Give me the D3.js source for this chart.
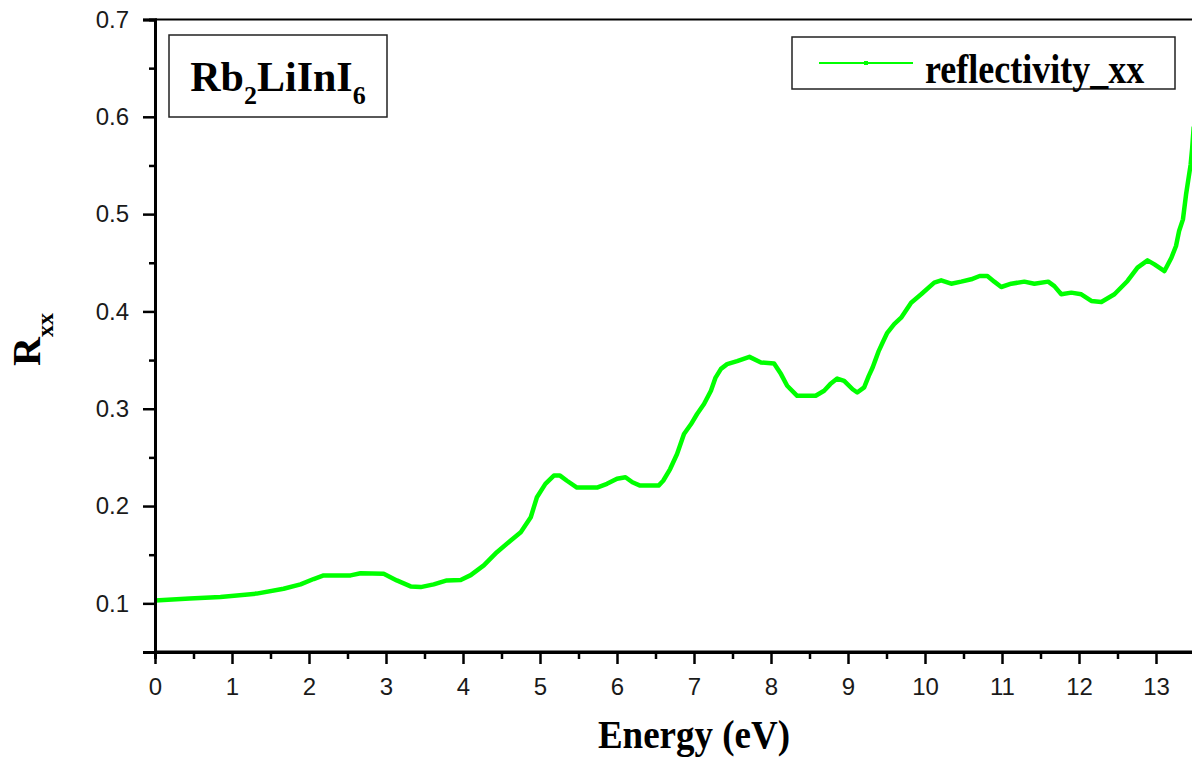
<!DOCTYPE html>
<html>
<head>
<meta charset="utf-8">
<script src="https://cdn.jsdelivr.net/npm/d3@7"></script>
<style>
  body { margin: 0; background: #fff; }
  svg { display: block; }
  .tick text { font-family: "Liberation Sans", Arial, sans-serif; font-size: 24px; fill: #1a1a1a; }
  .serif { font-family: "Liberation Serif", "Times New Roman", serif; font-weight: bold; fill: #000; }
</style>
</head>
<body>
<div id="chart"></div>
<script>
(function() {
    var width = 1192,
        height = 760;

    // energy (eV) and reflectivity
    var energy = [0.00, 0.45, 0.85, 1.32, 1.67, 1.89, 2.06, 2.19, 2.54, 2.67, 2.97, 3.14, 3.32, 3.45, 3.62, 3.79, 3.97, 4.10, 4.27, 4.44,
        4.62, 4.75, 4.88, 4.96, 5.07, 5.18, 5.26, 5.35, 5.48, 5.74, 5.87, 6.00, 6.11, 6.20, 6.30, 6.54, 6.60, 6.69, 6.78, 6.87,
        6.96, 7.04, 7.13, 7.22, 7.28, 7.35, 7.43, 7.56, 7.72, 7.87, 8.04, 8.13, 8.21, 8.34, 8.58, 8.69, 8.77, 8.86, 8.95, 9.06,
        9.12, 9.21, 9.27, 9.32, 9.36, 9.40, 9.45, 9.51, 9.60, 9.69, 9.82, 9.95, 10.12, 10.21, 10.34, 10.47, 10.60, 10.71, 10.81, 10.90,
        10.99, 11.12, 11.29, 11.42, 11.60, 11.68, 11.77, 11.90, 12.03, 12.16, 12.29, 12.46, 12.63, 12.76, 12.89, 12.98, 13.11, 13.20,
        13.26, 13.30, 13.35, 13.39, 13.42, 13.45, 13.47, 13.49];
    var reflectivity = [0.103, 0.105, 0.1065, 0.110, 0.115, 0.1195, 0.125, 0.1287, 0.1287, 0.131, 0.1305, 0.1236, 0.1174, 0.1167, 0.1195, 0.1236, 0.124, 0.129, 0.139, 0.1526,
        0.1646, 0.173, 0.1885, 0.209, 0.2228, 0.2313, 0.2313, 0.226, 0.219, 0.219, 0.2228, 0.228, 0.2296, 0.2244, 0.221, 0.221, 0.226, 0.238, 0.2535, 0.274,
        0.284, 0.2946, 0.3048, 0.3185, 0.332, 0.341, 0.3458, 0.349, 0.3533, 0.3475, 0.3465, 0.3356, 0.3236, 0.3133, 0.3133, 0.3185, 0.3253, 0.331, 0.3287, 0.320,
        0.3167, 0.322, 0.3338, 0.3424, 0.351, 0.3595, 0.368, 0.378, 0.387, 0.3936, 0.409, 0.4176, 0.4296, 0.432, 0.4285, 0.4306, 0.433, 0.4364, 0.4364, 0.4306,
        0.4251, 0.4285, 0.4306, 0.4285, 0.4306, 0.426, 0.4176, 0.4193, 0.4176, 0.4108, 0.4097, 0.4176, 0.4313, 0.445, 0.4525, 0.4484, 0.4415, 0.4552,
        0.4672, 0.4826, 0.4946, 0.520, 0.5356, 0.551, 0.568, 0.59];

    var xTicks = [0, 1, 2, 3, 4, 5, 6, 7, 8, 9, 10, 11, 12, 13];
    var xMinorTicks = [0.5, 1.5, 2.5, 3.5, 4.5, 5.5, 6.5, 7.5, 8.5, 9.5, 10.5, 11.5, 12.5, 13.5];
    var yTicks = [0.1, 0.2, 0.3, 0.4, 0.5, 0.6, 0.7];
    var yMinorTicks = [0.05, 0.15, 0.25, 0.35, 0.45, 0.55, 0.65];

    var seriesName = "reflectivity_xx";
    var green = "#00ff00";

    var points = energy.map(function(e, i) {
        return { e: e, r: reflectivity[i] };
    });

    var svg = d3.select("#chart").append("svg")
        .attr("width", width)
        .attr("height", height);

    var xScale = d3.scaleLinear()
        .domain([0, 13.5])
        .range([155, 155 + 13.5 * 77]);

    var yScale = d3.scaleLinear()
        .domain([0.05, 0.7])
        .range([652, 19.5]);

    //top frame line
    svg.append("line")
        .attr("x1", xScale(0)).attr("x2", width)
        .attr("y1", yScale(0.7)).attr("y2", yScale(0.7))
        .attr("stroke", "#000").attr("stroke-width", 2);

    //curve
    var valueline = d3.line()
        .x(function(d) { return xScale(d.e); })
        .y(function(d) { return yScale(d.r); });

    svg.append("path")
        .datum(points)
        .attr("d", valueline)
        .attr("fill", "none")
        .attr("stroke", green)
        .attr("stroke-width", 4.5)
        .attr("stroke-linejoin", "round");

    //minor axes first, then major
    svg.append("g")
        .attr("transform", "translate(0," + yScale(0.05) + ")")
        .call(d3.axisBottom(xScale).tickValues(xMinorTicks).tickSize(7).tickFormat(""))
        .call(styleAxis);

    svg.append("g")
        .attr("transform", "translate(" + xScale(0) + ",0)")
        .call(d3.axisLeft(yScale).tickValues(yMinorTicks).tickSize(6).tickFormat(""))
        .call(styleAxis);

    var xAxis = svg.append("g")
        .attr("transform", "translate(0," + yScale(0.05) + ")")
        .call(d3.axisBottom(xScale).tickValues(xTicks).tickSize(12).tickPadding(14).tickFormat(d3.format("d")))
        .call(styleAxis);
    xAxis.select(".domain").attr("d", "M" + xScale(0) + ",0H" + width);

    svg.append("g")
        .attr("transform", "translate(" + xScale(0) + ",0)")
        .call(d3.axisLeft(yScale).tickValues(yTicks).tickSize(12).tickPadding(14).tickFormat(d3.format(".1f")))
        .call(styleAxis);

    function styleAxis(g) {
        g.select(".domain").attr("stroke", "#000").attr("stroke-width", 3);
        g.selectAll(".tick line").attr("stroke", "#000").attr("stroke-width", 2.5);
    }

    //axis titles
    svg.append("text")
        .attr("class", "serif")
        .attr("text-anchor", "middle")
        .attr("font-size", 37)
        .attr("transform", "translate(694,748) scale(1,1.08)")
        .text("Energy (eV)");

    var yLabel = svg.append("text")
        .attr("class", "serif")
        .attr("transform", "translate(40,366) rotate(-90)")
        .attr("font-size", 40);
    yLabel.append("tspan").text("R");
    yLabel.append("tspan").attr("font-size", 24).attr("dy", 13).text("xx");

    //compound box
    svg.append("rect")
        .attr("x", 169).attr("y", 35)
        .attr("width", 218).attr("height", 82)
        .attr("fill", "#fff")
        .attr("stroke", "#222").attr("stroke-width", 1.5);

    var title = svg.append("text")
        .attr("class", "serif")
        .attr("x", 278).attr("y", 91)
        .attr("text-anchor", "middle")
        .attr("font-size", 42);
    title.append("tspan").text("Rb");
    title.append("tspan").attr("font-size", 26).attr("dy", 13).text("2");
    title.append("tspan").attr("dy", -13).text("LiInI");
    title.append("tspan").attr("font-size", 26).attr("dy", 13).text("6");

    //legend
    svg.append("rect")
        .attr("x", 792).attr("y", 37)
        .attr("width", 383).attr("height", 52)
        .attr("fill", "#fff")
        .attr("stroke", "#222").attr("stroke-width", 1.5);

    svg.append("line")
        .attr("x1", 819).attr("x2", 913)
        .attr("y1", 63).attr("y2", 63)
        .attr("stroke", green).attr("stroke-width", 2);

    svg.append("rect")
        .attr("x", 864).attr("y", 61)
        .attr("width", 4).attr("height", 4)
        .attr("fill", green);

    svg.append("text")
        .attr("class", "serif")
        .attr("font-size", 36)
        .attr("transform", "translate(925,83) scale(1,1.2)")
        .text(seriesName);
})();
</script>
</body>
</html>
